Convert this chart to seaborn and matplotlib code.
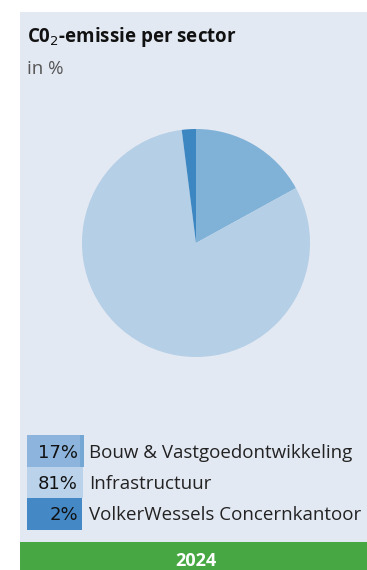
import matplotlib
matplotlib.use("Agg")
import matplotlib.pyplot as plt
from matplotlib.patches import Rectangle
import seaborn as sns

sns.set_style("white")
plt.rcParams["font.family"] = ["Open Sans", "DejaVu Sans"]

# Data
sectors = ["Bouw & Vastgoedontwikkeling", "Infrastructuur", "VolkerWessels Concernkantoor"]
shares = [17, 81, 2]
year = "2024"
colors = ["#80b1d7", "#b4cfe6", "#3c87c2"]
legend_colors = ["#8cb4dc", "#bad2ea", "#4489c6"]

W, H = 367, 570
fig = plt.figure(figsize=(W / 100, H / 100), dpi=100)
fig.patch.set_facecolor("white")

def px(x, y):
    return x / W, 1 - y / H

def box(x0, y0, x1, y1, color, z=-1):
    fig.patches.append(Rectangle(px(x0, y1), (x1 - x0) / W, (y1 - y0) / H,
                                 transform=fig.transFigure, facecolor=color,
                                 edgecolor="none", zorder=z))

# panel background and year bar
box(20, 12, W, 542, "#e3e9f3", z=-3)
box(20, 542, W, H, "#47a843", z=-3)

FS = 13.5

# titles
fig.text(*px(27, 42), "C0$_2$-emissie per sector", fontsize=FS, fontweight="bold",
         color="#111111", va="baseline", ha="left")
fig.text(*px(27, 74), "in %", fontsize=FS, color="#555555", va="baseline", ha="left")

# pie
r = 114
cx, cy = 196, 243
ax = fig.add_axes([(cx - r) / W, 1 - (cy + r) / H, 2 * r / W, 2 * r / H])
ax.set_zorder(5)
ax.patch.set_visible(False)
ax.pie(shares, colors=colors, startangle=90, counterclock=False, radius=1,
       wedgeprops=dict(linewidth=0))
ax.set_xlim(-1, 1)
ax.set_ylim(-1, 1)
ax.set_aspect("equal")
ax.axis("off")

# legend
rows = [(435, 467), (467, 498), (498, 530)]
box_right = [84, 83, 82]
for lab, val, col, (y0, y1), xr in zip(sectors, shares, legend_colors, rows, box_right):
    box(27, y0, xr, y1, col)
    yc = (y0 + y1) / 2 - 0.5
    fig.text(*px(78, yc), f"{val}%", fontsize=13, color="#111111",
             family="DejaVu Sans", ha="right", va="center_baseline")
    fig.text(*px(89, yc), lab, fontsize=FS, color="#222222",
             ha="left", va="center_baseline")
# thin darker edge on the first swatch
box(80, 435, 84, 467, "#74a7d4", z=-0.5)

fig.text(*px(196, 559), year, fontsize=13, fontweight="bold", color="white",
         ha="center", va="center_baseline")

fig.savefig("out.png", dpi=100, facecolor="white")
